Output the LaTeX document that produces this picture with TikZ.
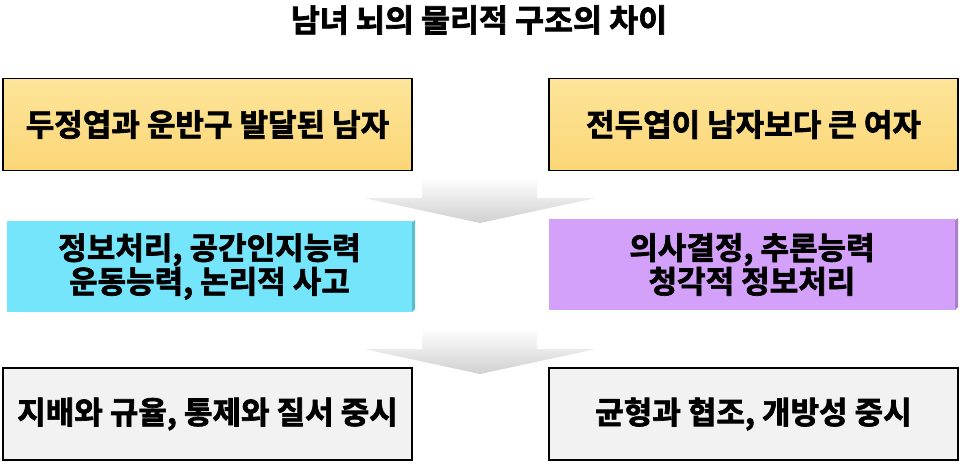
\documentclass[tikz,border=0pt]{standalone}
\usepackage{fontspec}
\newfontfamily\krb{Noto Sans CJK KR Bold}[FakeBold=2.2]
\definecolor{ytop}{RGB}{253,229,154}
\definecolor{ybot}{RGB}{251,214,118}
\definecolor{cyanface}{RGB}{117,229,252}
\definecolor{cyanside}{RGB}{92,190,204}
\definecolor{purpface}{RGB}{212,161,250}
\definecolor{purpside}{RGB}{170,128,200}
\definecolor{grayface}{RGB}{242,242,242}
\definecolor{arrbot}{RGB}{208,208,208}
\begin{document}
\begin{tikzpicture}[x=1pt,y=-1pt,
  txt/.style={font=\krb\fontsize{31}{32}\selectfont, align=center, inner sep=0pt},
  yellowbox/.style={txt, draw=black, line width=1.2pt, top color=ytop, bottom color=ybot, minimum width=409pt, minimum height=92pt},
  graybox/.style={txt, draw=black, line width=1.2pt, fill=grayface, minimum width=409pt, minimum height=92pt},
  cyanbox/.style={txt, fill=cyanface, minimum width=405pt, minimum height=91pt},
  purpbox/.style={txt, fill=purpface, minimum width=406pt, minimum height=91pt},
  blockarrow/.style={top color=white, bottom color=arrbot, draw=none}
]
\useasboundingbox (0,0) rectangle (962,466);
\node[font=\krb\fontsize{31.5}{34}\selectfont, inner sep=0pt] (title) at (479,20) {남녀 뇌의 물리적 구조의 차이};

\node[yellowbox] (m1) at (207.5,124.5) {두정엽과 운반구 발달된 남자};
\node[yellowbox] (f1) at (753.5,124.5) {전두엽이 남자보다 큰 여자};

% bevel sides
\fill[cyanside] (412,222) -- (415,220) -- (415,309) -- (412,312) -- cycle;
\fill[purpside] (955,220) -- (958,218) -- (958,307) -- (955,310) -- cycle;
\node[cyanbox] (m2) at (209.5,266.5) {정보처리, 공간인지능력\\운동능력, 논리적 사고};
\node[purpbox] (f2) at (752,264.5) {의사결정, 추론능력\\청각적 정보처리};

\node[graybox] (m3) at (207.5,414) {지배와 규율, 통제와 질서 중시};
\node[graybox] (f3) at (753.5,414) {균형과 협조, 개방성 중시};

% block arrows
\shade[blockarrow] (422,177) -- (537,177) -- (537,198) -- (596,198) -- (480,223) -- (364,198) -- (422,198) -- cycle;
\shade[blockarrow] (422,328) -- (537,328) -- (537,349) -- (596,349) -- (480,374) -- (364,349) -- (422,349) -- cycle;
\end{tikzpicture}
\end{document}
